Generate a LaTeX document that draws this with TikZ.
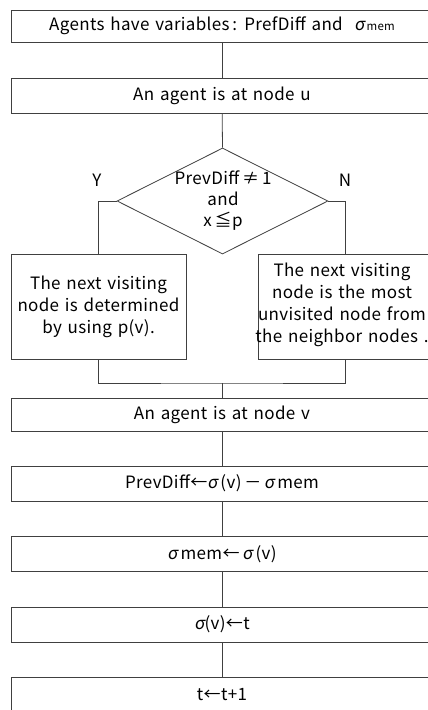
\documentclass[tikz,border=0pt]{standalone}
\usepackage{fontspec}
\setmainfont[WordSpace=1.4,LetterSpace=2]{Noto Sans CJK JP}
\newfontfamily\sig[FakeSlant=0.15]{Noto Sans CJK JP}
\newcommand{\sg}{{\sig σ}}
\usetikzlibrary{shapes.geometric}
\begin{document}
\begin{tikzpicture}[x=1pt,y=-1pt,
  line/.style={draw=black!75,line width=0.8pt},
  box/.style={line,rectangle,minimum width=422pt,inner sep=0pt,font=\fontsize{17}{19}\selectfont},
  sbox/.style={line,rectangle,minimum width=175pt,minimum height=105pt,inner sep=0pt,align=center,font=\fontsize{17}{22}\selectfont},
  txt/.style={inner sep=0pt,align=center,font=\fontsize{17}{21}\selectfont}]
\useasboundingbox (0,0) rectangle (428,710);
\clip (0,0) rectangle (428,710);
\node[box,minimum height=32pt] (b1) at (222,26) {Agents have variables\,: PrefDiff and \ \sg{\fontsize{11.5}{12}\selectfont\,mem}};
\node[box,minimum height=35pt] (b2) at (222,95.5) {An agent is at node u};
\node[line,diamond,minimum width=211pt,minimum height=106pt,inner sep=0pt] (d) at (222.5,201) {};
\node[txt] (dt) at (223,201) {PrevDiff\,≠\,1\\and\\x\,≦p};
\node[txt] (ly) at (97,180) {Y};
\node[txt] (ln) at (345,180) {N};
\node[sbox] (l) at (98.5,306.5) {The next visiting\\node is determined\\by using p(v).};
\node[sbox,minimum width=174pt] (r) at (345,306.5) {};
\node[txt,font=\fontsize{17}{22}\selectfont] (rt) at (342,305) {The next visiting\\node is the most\\unvisited node from\\the neighbor nodes .};
\coordinate (jn) at (222,383);
\node[box,minimum height=33pt] (b3) at (222,414.5) {An agent is at node v};
\node[box,minimum height=35pt] (b4) at (222,483.5) {PrevDiff←\sg\,(v)\,－\,\sg\,mem};
\node[box,minimum height=35pt] (b5) at (222,554) {\sg\,mem←\,\sg\,(v)};
\node[box,minimum height=35pt] (b6) at (222,624.5) {\sg(v)←t};
\node[box,minimum height=35pt] (b7) at (222,695) {t←t+1};
\draw[line] (b1) -- (b2);
\draw[line] (b2) -- (d.north);
\draw[line] (d.west) -| (l.north);
\draw[line] (d.east) -| (r.north);
\draw[line] (l.south) |- (jn) -| (r.south);
\draw[line] (jn) -- (b3.north);
\draw[line] (b3) -- (b4);
\draw[line] (b4) -- (b5);
\draw[line] (b5) -- (b6);
\draw[line] (b6) -- (b7);
\end{tikzpicture}
\end{document}
